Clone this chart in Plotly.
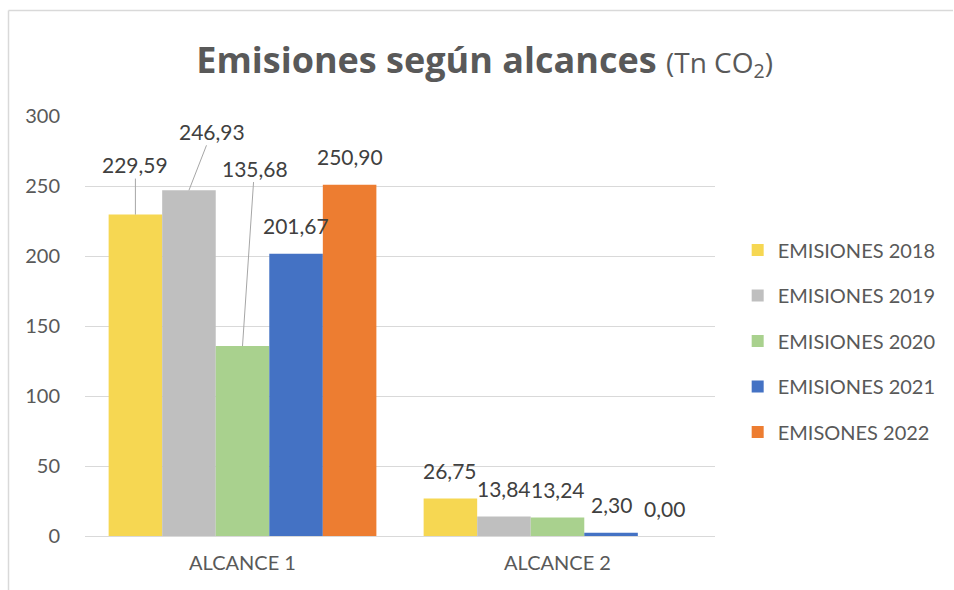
import plotly.graph_objects as go

# data
categories = ["ALCANCE 1", "ALCANCE 2"]
series_names = ["EMISIONES 2018", "EMISIONES 2019", "EMISIONES 2020",
                "EMISIONES 2021", "EMISONES 2022"]
values_2018 = [229.59, 26.75]
values_2019 = [246.93, 13.84]
values_2020 = [135.68, 13.24]
values_2021 = [201.67, 2.30]
values_2022 = [250.90, 0.00]
y_ticks = [0, 50, 100, 150, 200, 250, 300]

all_values = [values_2018, values_2019, values_2020, values_2021, values_2022]
colors = ["#F6D752", "#BFBFBF", "#A9D18E", "#4472C4", "#ED7D31"]

FONT = "Lato"
TITLE_FONT = "Open Sans"
W, H = 954, 590
L, R, T, B = 85, 239, 116, 54
BARGAP = 0.15


def fmt(v):
    return f"{v:.2f}".replace(".", ",")


fig = go.Figure()
for i, (name, vals) in enumerate(zip(series_names, all_values)):
    fig.add_trace(go.Bar(
        x=categories, y=vals, name=name,
        marker=dict(color=colors[i], line=dict(width=0)),
        legendgroup=name,
    ))

# data labels; a few are pulled away with leader lines like in the original
bar_w = (1 - BARGAP) / len(series_names)
# (ax, ay) pixel offsets of moved labels, keyed by (series, category)
leaders = {(0, 0): (0, -50), (1, 0): (23, -59), (2, 0): (12, -178)}
annotations = []
for i, vals in enumerate(all_values):
    for j, v in enumerate(vals):
        xpos = j + (i - (len(series_names) - 1) / 2) * bar_w
        if (i, j) in leaders:
            ax, ay = leaders[(i, j)]
            annotations.append(dict(
                x=xpos, y=v, xref="x", yref="y", text=fmt(v),
                showarrow=True, arrowhead=0, arrowwidth=1,
                arrowcolor="#A6A6A6", ax=ax, ay=ay, standoff=0,
                font=dict(family=FONT, size=21, color="#404040"),
            ))
        else:
            annotations.append(dict(
                x=xpos, y=v, xref="x", yref="y", text=fmt(v),
                showarrow=False, yshift=28,
                font=dict(family=FONT, size=21, color="#404040"),
            ))

pw, ph = W - L - R, H - T - B
fig.update_layout(
    width=W, height=H,
    margin=dict(l=L, r=R, t=T, b=B),
    paper_bgcolor="white", plot_bgcolor="white",
    barmode="group", bargap=BARGAP, bargroupgap=0,
    font=dict(family=FONT, color="#595959"),
    title=dict(
        text="<b>Emisiones según alcances</b> <span style='font-size:28px'>(Tn CO<sub>2</sub>)</span>",
        font=dict(family=TITLE_FONT, size=36, color="#595959"),
        x=0.508, xanchor="center", y=1 - 60 / H, yanchor="middle",
    ),
    xaxis=dict(
        showgrid=False, showline=False, zeroline=False,
        tickfont=dict(family=FONT, size=20, color="#595959"),
        ticklabelstandoff=13,
    ),
    yaxis=dict(
        range=[0, 300], tickvals=y_ticks,
        showgrid=True, gridcolor="#D9D9D9", gridwidth=1,
        zeroline=True, zerolinecolor="#D9D9D9", zerolinewidth=1,
        showline=False,
        tickfont=dict(family=FONT, size=20, color="#595959"),
        ticklabelstandoff=24,
    ),
    legend=dict(
        x=1.036, xanchor="left", y=0.464, yanchor="middle",
        font=dict(family=FONT, size=20, color="#595959"),
        tracegroupgap=16.5, traceorder="grouped",
    ),
    annotations=annotations,
    shapes=[
        # chart frame (top and left edges only are visible)
        dict(type="line", xref="paper", yref="paper",
             x0=(8.5 - L) / pw, x1=(953 - L) / pw,
             y0=(H - B - 10.5) / ph, y1=(H - B - 10.5) / ph,
             line=dict(color="#D9D9D9", width=1.5)),
        dict(type="line", xref="paper", yref="paper",
             x0=(8.5 - L) / pw, x1=(8.5 - L) / pw,
             y0=(H - B - 10.5) / ph, y1=-B / ph,
             line=dict(color="#D9D9D9", width=1.5)),
    ],
)

# drop the browser's default body margin so the figure sits at the page origin
fig.write_html("out.html", config={"displayModeBar": False},
               post_script="document.body.style.margin='0';")
